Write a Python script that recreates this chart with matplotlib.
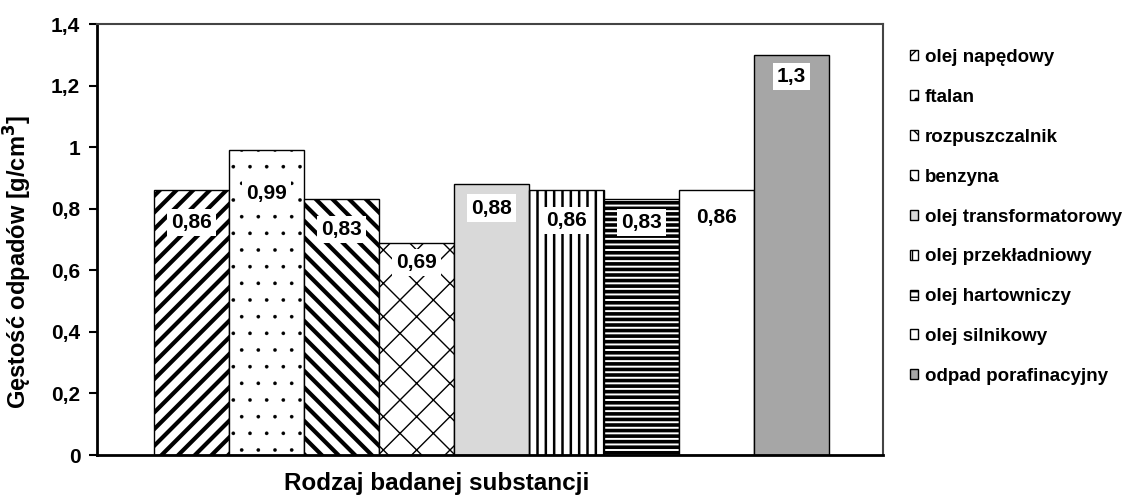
import matplotlib
matplotlib.use("Agg")
import matplotlib.pyplot as plt
from matplotlib.patches import Patch

plt.rcParams['font.family'] = ['Liberation Sans', 'DejaVu Sans']
plt.rcParams['font.weight'] = 'bold'

series = ["olej napędowy", "ftalan", "rozpuszczalnik", "benzyna",
          "olej transformatorowy", "olej przekładniowy", "olej hartowniczy",
          "olej silnikowy", "odpad porafinacyjny"]
values = [0.86, 0.99, 0.83, 0.69, 0.88, 0.86, 0.83, 0.86, 1.3]
value_labels = ["0,86", "0,99", "0,83", "0,69", "0,88", "0,86", "0,83", "0,86", "1,3"]
yticks = [0, 0.2, 0.4, 0.6, 0.8, 1.0, 1.2, 1.4]
ytick_labels = ["0", "0,2", "0,4", "0,6", "0,8", "1", "1,2", "1,4"]

# styles
faces = ['white', 'white', 'white', 'white', '#d9d9d9', 'white', 'white', 'white', '#a6a6a6']
hatches = ['//', '.', '\\\\', 'x', None, '||', '---', None, None]
hatch_lw = [3.0, 0.2, 3.0, 1.0, 1.0, 1.8, 2.6, 1.0, 1.0]
label_off = [-32, -43, -30, -20, -24, -30, -23, -27, -22]

fig = plt.figure(figsize=(11.35, 4.98), dpi=100)
ax = fig.add_axes([97/1135, 1 - 455/498, (883-97)/1135, (455-24)/498])

n = len(values)
width = 75
x0 = 154 - 97 + width/2
xs = [x0 + i*width for i in range(n)]
ax.set_xlim(0, 883-97)
ax.set_ylim(0, 1.4)

for i in range(n):
    b = ax.bar(xs[i], values[i], width=width, color=faces[i], edgecolor='black',
               linewidth=1.0, hatch=hatches[i], label=series[i], zorder=2)
    for p in b:
        if hasattr(p, 'set_hatch_linewidth'):
            p.set_hatch_linewidth(hatch_lw[i])
    ax.annotate(value_labels[i], (xs[i], values[i]), xytext=(0, label_off[i]),
                textcoords='offset pixels',
                ha='center', va='center', fontsize=15, fontweight='bold',
                bbox=dict(boxstyle='square,pad=0.2', fc='white', ec='none'), zorder=5)

ax.set_yticks(yticks)
ax.set_yticklabels(ytick_labels, fontsize=15, fontweight='bold')
ax.set_xticks([])
ax.tick_params(axis='y', direction='out', length=6, width=1.5, pad=6)
for s in ['left', 'bottom']:
    ax.spines[s].set_linewidth(2)
    ax.spines[s].set_color('black')
for s in ['top', 'right']:
    ax.spines[s].set_linewidth(1.5)
    ax.spines[s].set_color('#444444')

ax.set_ylabel("Gęstość odpadów [g/cm$^\\mathbf{3}$]", fontsize=17, fontweight='bold')
ax.yaxis.set_label_coords(-(97-34)/786, 0.448)
fig.text(437/1135, 1 - 483/498, "Rodzaj badanej substancji", ha='center', va='center',
         fontsize=17.5, fontweight='bold')

handles = []
for i in range(n):
    handles.append(Patch(facecolor=faces[i], edgecolor='black', hatch=hatches[i], linewidth=1.0))
leg = fig.legend(handles, series, loc='upper left', bbox_to_anchor=(910/1135, 1 - 49/498),
                 frameon=False, fontsize=13.5, handlelength=0.45, handleheight=0.45,
                 handletextpad=0.35, labelspacing=1.22, borderaxespad=0, borderpad=0)
for t in leg.get_texts():
    t.set_fontweight('bold')

fig.savefig("out.png", dpi=100)
